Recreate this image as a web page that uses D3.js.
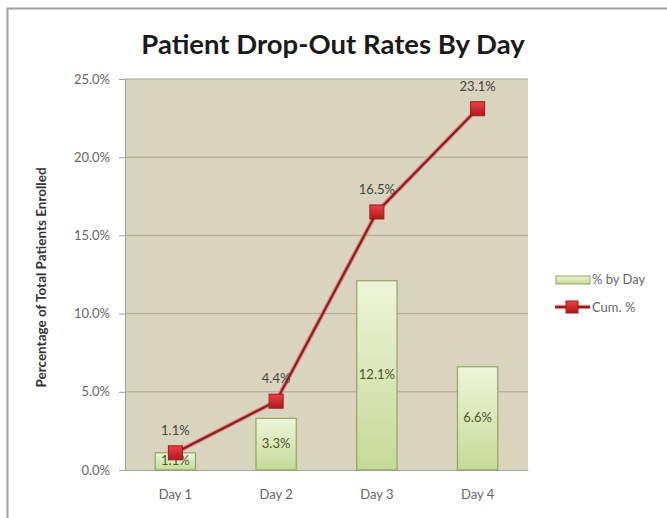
<!DOCTYPE html>
<html><head><meta charset="utf-8">
<script src="https://cdn.jsdelivr.net/npm/d3@7"></script>
<style>body{margin:0;background:#fff}svg{display:block}</style>
</head><body>
<svg id="c" width="667" height="518"></svg>
<script>
const categories = ["Day 1","Day 2","Day 3","Day 4"];
const byDay = [1.1, 3.3, 12.1, 6.6];
const cumulative = [1.1, 4.4, 16.5, 23.1];
const yTicks = [0,5,10,15,20,25];
const seriesNames = ["% by Day","Cum. %"];
const titleText = "Patient Drop-Out Rates By Day";
const yTitle = "Percentage of Total Patients Enrolled";

const svg = d3.select("#c");
const font = "Lato, 'Open Sans', sans-serif";
const defs = svg.append("defs");
const bg = defs.append("linearGradient").attr("id","barg").attr("x1",0).attr("y1",0).attr("x2",0).attr("y2",1);
bg.append("stop").attr("offset","0%").attr("stop-color","#eef5d8");
bg.append("stop").attr("offset","100%").attr("stop-color","#c5da98");
const mg = defs.append("linearGradient").attr("id","mkg").attr("x1",0).attr("y1",0).attr("x2",0).attr("y2",1);
mg.append("stop").attr("offset","0%").attr("stop-color","#f0404a");
mg.append("stop").attr("offset","100%").attr("stop-color","#b01818");

// outer border
svg.append("rect").attr("x",7.5).attr("y",8.5).attr("width",700).attr("height",600)
  .attr("fill","#fff").attr("stroke","#a0a0a0").attr("stroke-width",2);

const m = {left:125, right:528, top:79, bottom:470};
const x = d3.scaleBand().domain(categories).range([m.left,m.right]).paddingInner(0.6).paddingOuter(0.3);
const y = d3.scaleLinear().domain([0,25]).range([m.bottom,m.top]);

svg.append("rect").attr("x",m.left).attr("y",m.top).attr("width",m.right-m.left).attr("height",m.bottom-m.top)
  .attr("fill","#d9d4bd");

// gridlines
svg.append("g").selectAll("line").data(yTicks.filter(d=>d>0)).join("line")
  .attr("x1",m.left).attr("x2",m.right).attr("y1",d=>y(d)).attr("y2",d=>y(d))
  .attr("stroke","#a9a697").attr("stroke-width",1);

// y axis
const ya = svg.append("g").attr("transform",`translate(${m.left},0)`)
  .call(d3.axisLeft(y).tickValues(yTicks).tickSize(6).tickPadding(9).tickFormat(d=>d.toFixed(1)+"%"));
ya.select(".domain").attr("stroke","#a0a0a0");
ya.selectAll(".tick line").attr("stroke","#a0a0a0");
ya.selectAll("text").attr("font-family",font).attr("font-size",13).attr("fill","#666");

// x axis
const xa = svg.append("g").attr("transform",`translate(0,${m.bottom})`)
  .call(d3.axisBottom(x).tickSize(0).tickPadding(20));
xa.select(".domain").attr("stroke","#a0a0a0");
xa.selectAll("text").attr("font-family",font).attr("font-size",13).attr("fill","#666");

// bars
svg.append("g").selectAll("rect").data(byDay).join("rect")
  .attr("x",(d,i)=>x(categories[i])).attr("width",x.bandwidth())
  .attr("y",d=>y(d)).attr("height",d=>y(0)-y(d))
  .attr("fill","url(#barg)").attr("stroke","#8ea65e").attr("stroke-width",1.2);
svg.append("g").selectAll("text").data(byDay).join("text")
  .attr("x",(d,i)=>x(categories[i])+x.bandwidth()/2).attr("y",d=>(y(d)+y(0))/2+4)
  .attr("text-anchor","middle").attr("font-family",font).attr("font-size",13).attr("fill","#4a5530")
  .text(d=>d.toFixed(1)+"%");

// line
const cx = (d,i)=>x(categories[i])+x.bandwidth()/2;
const line = d3.line().x(cx).y(d=>y(d));
svg.append("path").datum(cumulative).attr("d",line).attr("fill","none")
  .attr("stroke","#e08a8a").attr("stroke-width",4.5);
svg.append("path").datum(cumulative).attr("d",line).attr("fill","none")
  .attr("stroke","#8a1e22").attr("stroke-width",2.2);
svg.append("g").selectAll("rect").data(cumulative).join("rect")
  .attr("x",(d,i)=>cx(d,i)-7).attr("y",d=>y(d)-7).attr("width",14).attr("height",14)
  .attr("fill","url(#mkg)").attr("stroke","#9a1a1a").attr("stroke-width",1);
svg.append("g").selectAll("text").data(cumulative).join("text")
  .attr("x",cx).attr("y",d=>y(d)-18)
  .attr("text-anchor","middle").attr("font-family",font).attr("font-size",13).attr("fill","#444")
  .text(d=>d.toFixed(1)+"%");

// title
svg.append("text").attr("x",333).attr("y",54).attr("text-anchor","middle")
  .attr("font-family",font).attr("font-weight","bold").attr("font-size",27.5).attr("fill","#1a1a1a")
  .text(titleText);
svg.append("text").attr("transform",`translate(46,${(m.top+m.bottom)/2 + 3}) rotate(-90)`)
  .attr("text-anchor","middle").attr("font-family",font).attr("font-weight","bold").attr("font-size",13.5)
  .attr("fill","#333").text(yTitle);

// legend
const lg = svg.append("g");
lg.append("rect").attr("x",556).attr("y",276).attr("width",34).attr("height",8)
  .attr("fill","url(#barg)").attr("stroke","#8ea65e");
lg.append("text").attr("x",592).attr("y",284).attr("font-family",font).attr("font-size",13).attr("fill","#666").text(seriesNames[0]);
lg.append("line").attr("x1",555).attr("x2",590).attr("y1",307).attr("y2",307).attr("stroke","#e08a8a").attr("stroke-width",4.5);
lg.append("line").attr("x1",555).attr("x2",590).attr("y1",307).attr("y2",307).attr("stroke","#8a1e22").attr("stroke-width",2.2);
lg.append("rect").attr("x",566).attr("y",301).attr("width",12).attr("height",12).attr("fill","url(#mkg)").attr("stroke","#9a1a1a");
lg.append("text").attr("x",592).attr("y",312).attr("font-family",font).attr("font-size",13).attr("fill","#666").text(seriesNames[1]);
</script>
</body></html>
